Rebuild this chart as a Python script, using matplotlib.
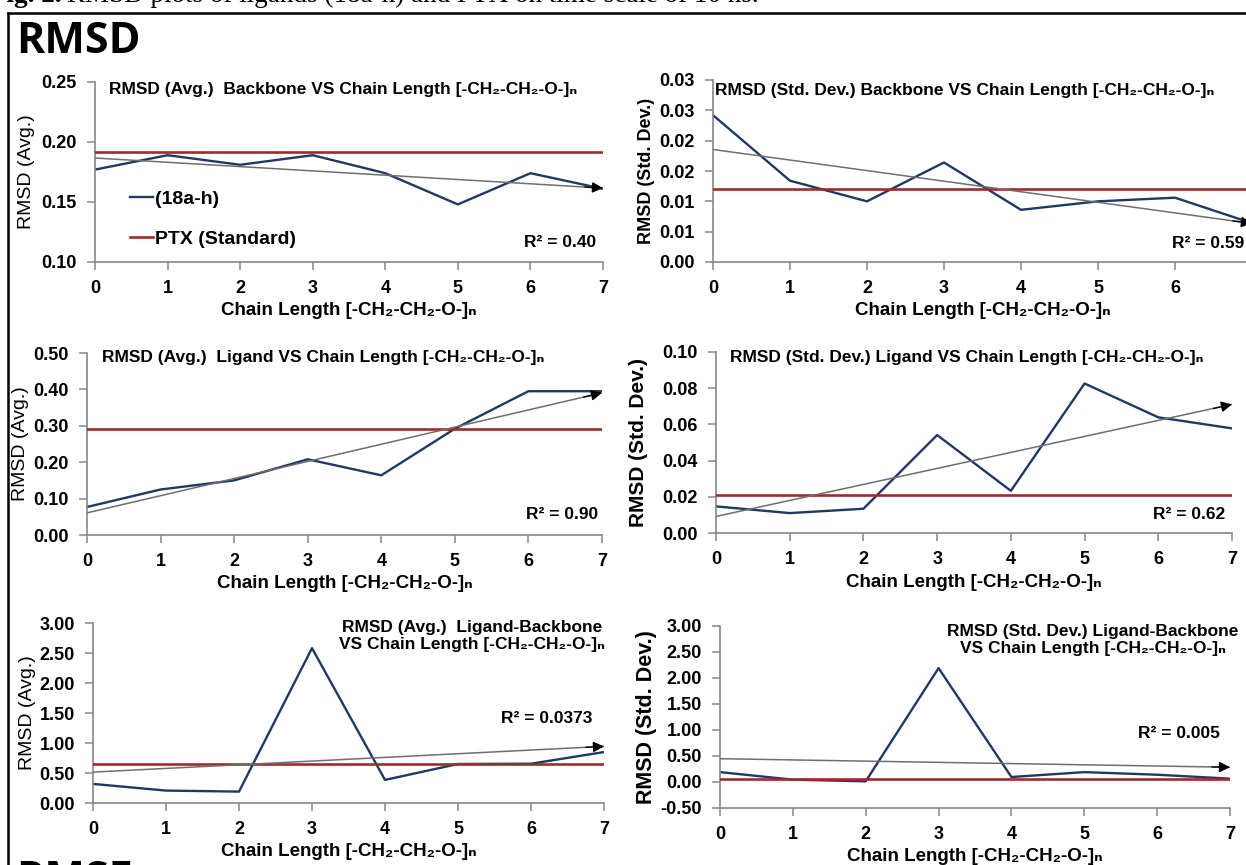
import matplotlib
matplotlib.use("Agg")
import matplotlib.pyplot as plt
from matplotlib.lines import Line2D
import numpy as np

plt.rcParams['font.family'] = ['Liberation Sans', 'DejaVu Sans']
plt.rcParams['font.weight'] = 'bold'

W, H = 1246, 865

# data
chain = [0, 1, 2, 3, 4, 5, 6, 7]

avg_backbone = [0.177, 0.189, 0.181, 0.189, 0.174, 0.148, 0.174, 0.161]
ptx_avg_backbone = 0.192
std_backbone = [0.0242, 0.0134, 0.0100, 0.0164, 0.0086, 0.0100, 0.0106, 0.0064]
ptx_std_backbone = 0.0120
avg_ligand = [0.077, 0.125, 0.150, 0.208, 0.164, 0.292, 0.395, 0.395]
ptx_avg_ligand = 0.292
std_ligand = [0.0147, 0.0110, 0.0134, 0.0541, 0.0233, 0.0826, 0.0639, 0.0578]
ptx_std_ligand = 0.0211
avg_lig_bb = [0.318, 0.207, 0.190, 2.581, 0.385, 0.650, 0.655, 0.849]
ptx_avg_lig_bb = 0.654
std_lig_bb = [0.190, 0.045, 0.013, 2.190, 0.096, 0.190, 0.140, 0.064]
ptx_std_lig_bb = 0.050

r2_labels = ['R² = 0.40', 'R² = 0.59', 'R² = 0.90', 'R² = 0.62', 'R² = 0.0373', 'R² = 0.005']

xlab = 'Chain Length [-CH₂-CH₂-O-]ₙ'
titles = ['RMSD (Avg.)  Backbone VS Chain Length [-CH₂-CH₂-O-]ₙ',
          'RMSD (Std. Dev.) Backbone VS Chain Length [-CH₂-CH₂-O-]ₙ',
          'RMSD (Avg.)  Ligand VS Chain Length [-CH₂-CH₂-O-]ₙ',
          'RMSD (Std. Dev.) Ligand VS Chain Length [-CH₂-CH₂-O-]ₙ',
          'RMSD (Avg.)  Ligand-Backbone\nVS Chain Length [-CH₂-CH₂-O-]ₙ',
          'RMSD (Std. Dev.) Ligand-Backbone\nVS Chain Length [-CH₂-CH₂-O-]ₙ']
ylabels = ['RMSD (Avg.)', 'RMSD (Std. Dev.)', 'RMSD (Avg.)', 'RMSD (Std. Dev.)',
           'RMSD (Avg.)', 'RMSD (Std. Dev.)']

yticks = [[0.10, 0.15, 0.20, 0.25],
          [0, 0.005, 0.01, 0.015, 0.02, 0.025, 0.03],
          [0, 0.1, 0.2, 0.3, 0.4, 0.5],
          [0, 0.02, 0.04, 0.06, 0.08, 0.10],
          [0, 0.5, 1.0, 1.5, 2.0, 2.5, 3.0],
          [-0.5, 0, 0.5, 1.0, 1.5, 2.0, 2.5, 3.0]]
ytick_labels = [['0.10', '0.15', '0.20', '0.25'],
                ['0.00', '0.01', '0.01', '0.02', '0.02', '0.03', '0.03'],
                ['0.00', '0.10', '0.20', '0.30', '0.40', '0.50'],
                ['0.00', '0.02', '0.04', '0.06', '0.08', '0.10'],
                ['0.00', '0.50', '1.00', '1.50', '2.00', '2.50', '3.00'],
                ['-0.50', '0.00', '0.50', '1.00', '1.50', '2.00', '2.50', '3.00']]

series = [avg_backbone, std_backbone, avg_ligand, std_ligand, avg_lig_bb, std_lig_bb]
ptx = [ptx_avg_backbone, ptx_std_backbone, ptx_avg_ligand, ptx_std_ligand,
       ptx_avg_lig_bb, ptx_std_lig_bb]

# panel boxes in pixels: left, right, top, bottom
boxes = [(95, 603, 82, 262), (713, 1252, 80, 262),
         (87, 602, 353, 535), (716, 1232, 352, 533),
         (93, 604, 623, 803), (720, 1230, 626, 808)]
# title anchor (x, y, ha), r2 anchor (x, y), ylabel x, xlabel y, ylabel size/weight
title_pos = [(0.028, 0.956, 'left'), (0.004, 0.945, 'left'),
             (0.029, 0.973, 'left'), (0.027, 0.972, 'left'),
             (0.742, 0.928, 'center'), (0.731, 0.923, 'center')]
r2_pos = [(0.986, 0.111), (0.985, 0.099), (0.992, 0.11), (0.986, 0.10),
          (0.978, 0.472), (0.98, 0.412)]
ylab_x = [-0.134, -0.124, -0.130, -0.151, -0.129, -0.145]
xlab_y = [-0.267, -0.265, -0.269, -0.271, -0.272, -0.269]
ylab_style = [(14, 'normal'), (13, 'bold'), (14, 'normal'), (15, 'bold'),
              (14, 'normal'), (15.5, 'bold')]

blue = '#1F3864'
red = '#A02B2B'
spine_c = '#868686'

fig = plt.figure(figsize=(W / 100, H / 100), dpi=100)

for i in range(6):
    l, r, t, b = boxes[i]
    ax = fig.add_axes([l / W, 1 - b / H, (r - l) / W, (b - t) / H])
    ax.plot(chain, series[i], color=blue, lw=1.7, zorder=2)
    ax.plot(chain, [ptx[i]] * len(chain), color=red, lw=1.9, zorder=3)
    coef = np.polyfit(chain, series[i], 1)
    fit = np.polyval(coef, chain)
    ax.plot(chain, fit, color='#6e6e6e', lw=1.1, zorder=4)
    ax.annotate('', xy=(7, fit[-1]), xytext=(6.75, np.polyval(coef, 6.75)),
                arrowprops=dict(arrowstyle='-|>', color='black', lw=1,
                                mutation_scale=16, shrinkA=0, shrinkB=0),
                annotation_clip=False, zorder=5)

    ax.set_xlim(0, 7)
    ax.set_ylim(yticks[i][0], yticks[i][-1])
    ax.set_xticks(chain)
    ax.set_yticks(yticks[i])
    ax.set_yticklabels(ytick_labels[i])
    for s in ['top', 'right']:
        ax.spines[s].set_visible(False)
    for s in ['left', 'bottom']:
        ax.spines[s].set_color(spine_c)
        ax.spines[s].set_linewidth(1.2)
    ax.tick_params(axis='both', direction='out', length=6, width=1.1,
                   color=spine_c, labelsize=13)
    ax.tick_params(axis='y', pad=7)
    ax.tick_params(axis='x', pad=7)

    tx, ty, tha = title_pos[i]
    ax.text(tx, ty, titles[i], transform=ax.transAxes, ha=tha, va='center',
            fontsize=12.5, multialignment='center', linespacing=1.15)
    ax.text(r2_pos[i][0], r2_pos[i][1], r2_labels[i], transform=ax.transAxes,
            ha='right', va='center', fontsize=12.5)
    ax.text(ylab_x[i], 0.5, ylabels[i], transform=ax.transAxes, rotation=90,
            ha='center', va='center', fontsize=ylab_style[i][0],
            fontweight=ylab_style[i][1])
    ax.text(0.5, xlab_y[i], xlab, transform=ax.transAxes, ha='center',
            va='center', fontsize=13.5)

    if i == 0:
        handles = [Line2D([], [], color=blue, lw=1.7),
                   Line2D([], [], color=red, lw=1.9)]
        ax.legend(handles, ['(18a-h)', 'PTX (Standard)'], loc='upper left',
                  bbox_to_anchor=(0.069, 0.40), frameon=False, fontsize=14,
                  handlelength=1.2, handletextpad=0.1, labelspacing=1.15,
                  borderpad=0, borderaxespad=0)

# frame, headings and cut caption
fig.add_artist(Line2D([8 / W, 8 / W], [0, 1 - 13 / H], color='black', lw=1.8))
fig.add_artist(Line2D([8 / W, 1], [1 - 13 / H, 1 - 13 / H], color='black', lw=1.8))
fig.text(16 / W, 1 - 53 / H, 'RMSD', fontsize=31, family='Open Sans',
         fontweight='bold', va='baseline')
fig.text(16 / W, 1 - 892 / H, 'RMSF', fontsize=31, family='Open Sans',
         fontweight='bold', va='baseline')
cap = fig.text(-10 / W, 1 - 2 / H, 'Fig. 2.', fontsize=19.5,
               family='Liberation Serif', fontweight='bold', va='baseline')
fig.canvas.draw()
ext = cap.get_window_extent()
fig.text((ext.x1 + 5) / W, 1 - 2 / H,
         'RMSD plots of ligands (18a-h) and PTX on time scale of 10 ns.',
         fontsize=19.5, family='Liberation Serif', fontweight='normal',
         va='baseline')

fig.savefig('out.png', dpi=100)
